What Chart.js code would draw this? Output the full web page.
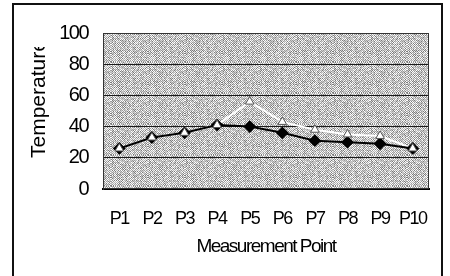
<!DOCTYPE html>
<html>
<head>
<meta charset="utf-8">
<script src="https://cdn.jsdelivr.net/npm/chart.js@4.4.0/dist/chart.umd.min.js"></script>
<style>
html,body{margin:0;padding:0;background:#fff;}
#wrap{position:relative;width:450px;height:276px;overflow:hidden;}
#frame{position:absolute;left:12px;top:3px;width:427px;height:300px;border:2px solid #111;}
canvas{position:absolute;left:0;top:0;}
</style>
</head>
<body>
<div id="wrap"><div id="frame"></div><canvas id="c" width="450" height="276"></canvas></div>
<script>
// data
const points = ['P1','P2','P3','P4','P5','P6','P7','P8','P9','P10'];
const seriesA = [26, 33, 36, 41, 40, 36, 31, 30, 29, 26];   // black diamonds
const seriesB = [26, 33, 36, 41, 56, 43, 38, 35, 34, 26];   // white triangles
const yMin = 0, yMax = 100, yStep = 20;

const sans = "'Liberation Sans',Arial,sans-serif";

// dithered grey fill like the scanned plot area (hash-based tile, fixed)
function dither(){
  const w = 37, h = 31;
  const c = document.createElement('canvas'); c.width = w; c.height = h;
  const g = c.getContext('2d');
  const dark = ['#7c7c7c', '#9c9c9c', '#b8b8b8'];
  const light = ['#ffffff', '#f2f2f2', '#cdcdcd'];
  for (let y=0;y<h;y++) for (let x=0;x<w;x++){
    const s = Math.sin(x*12.9898 + y*78.233) * 43758.5453;
    const k = Math.floor((s - Math.floor(s)) * 3);
    g.fillStyle = ((x+y)%2===0) ? dark[k] : light[k];
    g.fillRect(x,y,1,1);
  }
  return c;
}

const deco = {
  id: 'deco',
  beforeLayout(chart){ chart.ctx.letterSpacing = '-1.5px'; },
  beforeDraw(chart){
    const {ctx, chartArea:a} = chart;
    ctx.letterSpacing = '-1.5px';
    ctx.save();
    ctx.fillStyle = ctx.createPattern(dither(), 'repeat');
    ctx.fillRect(a.left, a.top, a.right-a.left, a.bottom-a.top);
    ctx.restore();
  },
  afterDraw(chart){
    const {ctx, chartArea:a} = chart;
    ctx.save();
    ctx.strokeStyle = '#333'; ctx.lineWidth = 1;
    ctx.strokeRect(a.left+0.5, a.top+0.5, a.right-a.left-1, a.bottom-a.top-1);
    ctx.restore();
    // y title, clipped at the top like the original
    ctx.save();
    ctx.letterSpacing = '0px';
    ctx.beginPath(); ctx.rect(0, 47, 100, 200); ctx.clip();
    ctx.translate(45, 158); ctx.rotate(-Math.PI/2);
    ctx.font = '21px ' + sans; ctx.fillStyle = '#000';
    ctx.textAlign = 'left'; ctx.textBaseline = 'alphabetic';
    ctx.fillText('Temperature', 0, 0);
    ctx.restore();
  }
};

new Chart(document.getElementById('c'), {
  type: 'line',
  data: {
    labels: points,
    datasets: [
      // B markers on top of everything
      { label:'B markers', data: seriesB, showLine:false, order:0,
        pointStyle:'triangle', pointRadius:5, pointBackgroundColor:'#fff', pointBorderColor:'#555', pointBorderWidth:1 },
      { label:'A', data: seriesA, borderColor:'#000', borderWidth:2, tension:0, order:1,
        pointStyle:'rectRot', pointRadius:5, pointBackgroundColor:'#000', pointBorderColor:'#000' },
      // B line underneath the black line
      { label:'B', data: seriesB, borderColor:'#ffffff', borderWidth:2, tension:0, order:2, pointRadius:0 }
    ]
  },
  options: {
    responsive: false, animation: false,
    layout: { padding: { left:0, right:21, top:33, bottom:0 } },
    plugins: { legend:{display:false}, tooltip:{enabled:false} },
    scales: {
      x: {
        offset: true,
        grid: { display:false, drawTicks:false },
        border: { color:'#000', width:2 },
        ticks: { color:'#000', font:{ family:sans, size:18 }, padding:19, maxRotation:0, autoSkip:false },
        title: { display:true, text:'Measurement Point', color:'#000', font:{ family:sans, size:19 }, padding:{top:0,bottom:18} },
        afterFit: s => { s.height = 87; }
      },
      y: {
        min: yMin, max: yMax,
        grid: { color:'#1a1a1a', lineWidth:1, drawTicks:false },
        border: { color:'#333', width:1 },
        ticks: { stepSize:yStep, color:'#000', font:{ family:sans, size:20 }, padding:15 },
        afterFit: s => { s.width = 103; }
      }
    }
  },
  plugins: [deco]
});
</script>
</body>
</html>
